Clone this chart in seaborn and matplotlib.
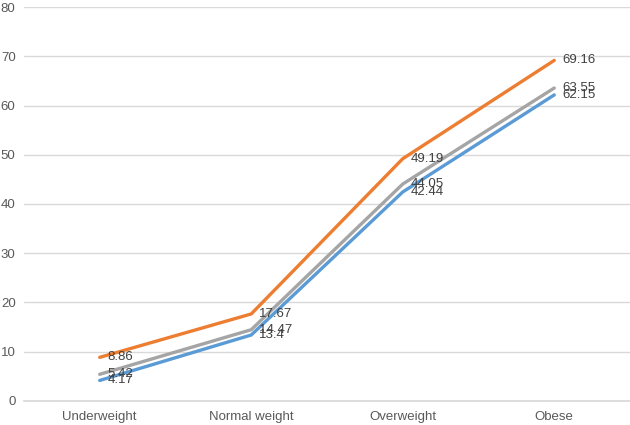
import matplotlib
matplotlib.use("Agg")
import matplotlib.pyplot as plt
import seaborn as sns
import pandas as pd

categories = ["Underweight", "Normal weight", "Overweight", "Obese"]
series_blue = [4.17, 13.4, 42.44, 62.15]
series_orange = [8.86, 17.67, 49.19, 69.16]
series_gray = [5.42, 14.47, 44.05, 63.55]
series_names = ["Series 1", "Series 2", "Series 3"]
label_texts = {
    "Series 1": ["4.17", "13:4", "42.44", "62.15"],
    "Series 2": ["8.86", "17.67", "49.19", "69.16"],
    "Series 3": ["5.42", "14 47", "44.05", "63.55"],
}

sns.set_theme(style="white")
plt.rcParams["font.family"] = ["Liberation Sans", "DejaVu Sans"]

rows = []
for name, vals in zip(series_names, [series_blue, series_orange, series_gray]):
    for i, (c, v) in enumerate(zip(categories, vals)):
        rows.append({"series": name, "x": i, "category": c, "value": v})
df = pd.DataFrame(rows)

colors = {"Series 1": "#5B9BD5", "Series 2": "#ED7D31", "Series 3": "#A5A5A5"}

fig = plt.figure(figsize=(6.3, 4.25), dpi=100)
ax = fig.add_axes([0.038, 0.0565, 0.962, 0.927])

sns.lineplot(data=df, x="x", y="value", hue="series", palette=colors,
             linewidth=2.4, legend=False, ax=ax, sort=False)

# data labels to the right of each point
for name in series_names:
    sub = df[df["series"] == name]
    for (_, r), t in zip(sub.iterrows(), label_texts[name]):
        ax.annotate(t, (r["x"], r["value"]), xytext=(5.5, 0), textcoords="offset points",
                    va="center", ha="left", fontsize=9.5, color="#404040")

ax.set_xlim(-0.5, 3.5)
ax.set_ylim(0, 80)
ax.set_yticks(range(0, 81, 10))
ax.set_xticks(range(len(categories)))
ax.set_xticklabels(categories)
ax.yaxis.grid(True, color="#D9D9D9", linewidth=1)
ax.set_axisbelow(True)
for s in ["top", "right", "left"]:
    ax.spines[s].set_visible(False)
ax.spines["bottom"].set_color("#D9D9D9")
ax.tick_params(axis="both", length=0, labelsize=9.5, colors="#595959")
ax.tick_params(axis="x", pad=7)
ax.tick_params(axis="y", pad=6)
ax.set_xlabel("")
ax.set_ylabel("")

fig.savefig("out.png", dpi=100)
